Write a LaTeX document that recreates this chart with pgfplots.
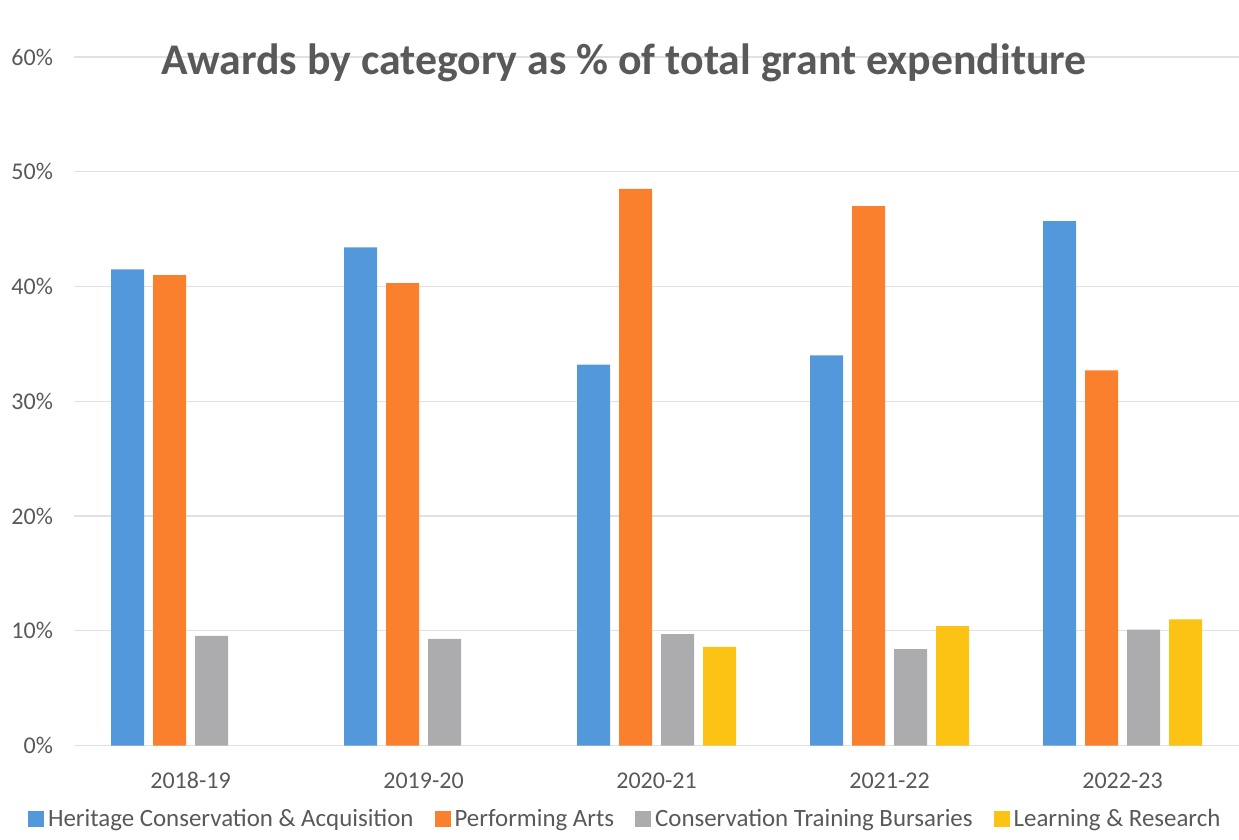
\documentclass[border=0pt]{standalone}
\usepackage{fontspec}
\setmainfont{Carlito}
\usepackage{pgfplots}
\pgfplotsset{compat=1.18}
\definecolor{cblue}{RGB}{84,152,220}
\definecolor{corange}{RGB}{250,128,45}
\definecolor{cgray}{RGB}{172,172,174}
\definecolor{cyellow}{RGB}{252,194,20}
\definecolor{txt}{RGB}{89,89,89}
\definecolor{grid}{RGB}{225,225,225}
\begin{document}
\begin{tikzpicture}
\begin{axis}[
  scale only axis,
  width=582.5pt, height=344.25pt,
  clip=false,
  ybar=4.5pt, bar width=16.5pt,
  xmin=-0.5, xmax=4.5,
  ymin=0, ymax=60,
  xtick={0,1,2,3,4},
  xticklabels={2018-19,2019-20,2020-21,2021-22,2022-23},
  ytick={0,10,20,30,40,50,60},
  yticklabels={0\%,10\%,20\%,30\%,40\%,50\%,60\%},
  axis line style={draw=none},
  major tick length=0pt,
  ymajorgrids,
  grid style={draw=grid, line width=0.6pt},
  tick label style={font=\fontsize{12}{14}\selectfont, text=txt},
  yticklabel style={xshift=-7pt},
  xticklabel style={yshift=-10pt},
  legend style={at={(0.474,-0.1068)}, anchor=center, legend columns=4, draw=none,
    font=\fontsize{12.45}{14}\selectfont, text=txt,
    /tikz/every even column/.append style={column sep=8.5pt},
    /tikz/every odd column/.append style={column sep=0pt}},
  legend image code/.code={\fill[#1] (0pt,-4pt) rectangle (8pt,4pt);},
]
\addplot[fill=cblue, draw=none] coordinates {(0,41.5) (1,43.4) (2,33.2) (3,34.0) (4,45.7)};
\addplot[fill=corange, draw=none] coordinates {(0,41.0) (1,40.3) (2,48.5) (3,47.0) (4,32.7)};
\addplot[fill=cgray, draw=none] coordinates {(0,9.55) (1,9.3) (2,9.7) (3,8.4) (4,10.1)};
\addplot[fill=cyellow, draw=none] coordinates {(2,8.6) (3,10.4) (4,11.0)};
\legend{Heritage Conservation \& Acquisition, Performing Arts, Conservation Training Bursaries, Learning \& Research}
\node[anchor=base, text=txt, font=\fontsize{21.9}{26}\selectfont\bfseries] at (axis description cs:0.472,0.9749) {Awards by category as \% of total grant expenditure};
\end{axis}
\pgfresetboundingbox
\path[use as bounding box] ([xshift=-37pt, yshift=-46.75pt]current axis.south west) rectangle ([yshift=28.5pt]current axis.north east);
\end{tikzpicture}
\end{document}
